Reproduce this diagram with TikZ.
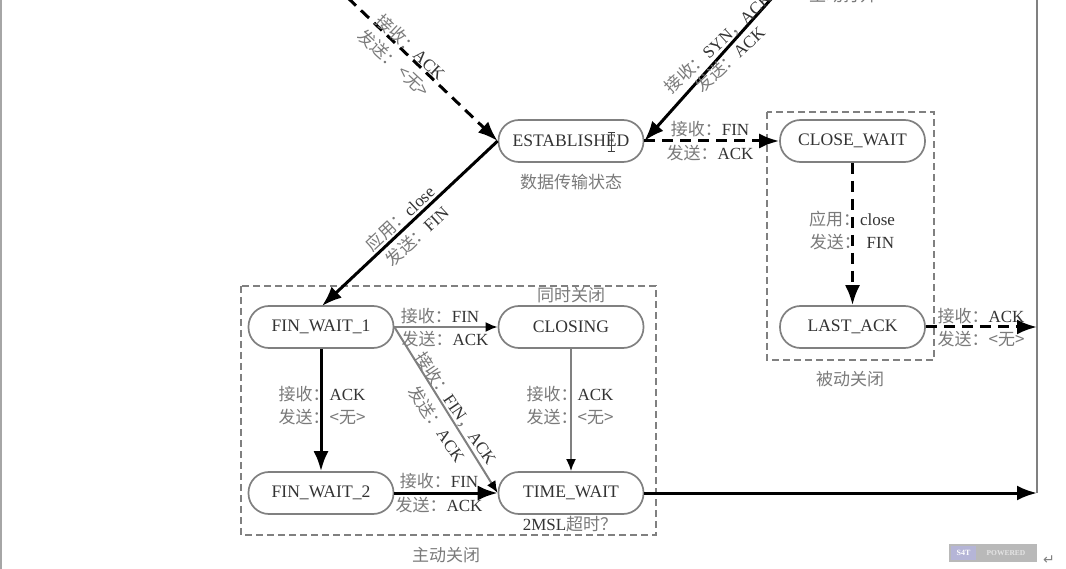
\documentclass[tikz,border=0pt]{standalone}
\usepackage{fontspec}
\setmainfont{Liberation Serif}
\newfontfamily\cjk{Noto Sans CJK SC}
\usetikzlibrary{arrows.meta}
\newcommand{\zh}[1]{{\cjk\color{cjkgray}#1}}
\definecolor{cjkgray}{gray}{0.48}
\definecolor{txt}{gray}{0.2}
\definecolor{edgegray}{gray}{0.5}
\tikzset{
  statebox/.style={draw=edgegray,line width=1.7pt,fill=white,rounded corners=20.5pt,minimum width=145pt,minimum height=42pt,inner sep=0pt,text=txt,font=\fontsize{17.6}{19}\selectfont},
  lab/.style={inner sep=0pt,text=txt,font=\fontsize{17}{19}\selectfont},
  group/.style={draw=edgegray,line width=1.3pt,dash pattern=on 7pt off 4pt},
  flow/.style={black,line width=3pt,-{Latex[length=20pt,width=15pt]}},
  dflow/.style={flow,dash pattern=on 11pt off 7pt},
  thin flow/.style={edgegray,line width=2pt,-{Latex[length=12pt,width=10pt,black]}}
}
\begin{document}
\begin{tikzpicture}[x=1pt,y=-1pt]
\useasboundingbox (0,0) rectangle (1066,569);
\clip (0,0) rectangle (1066,569);
\fill[white] (0,0) rectangle (1066,569);
\draw[gray!70,line width=2pt] (1,0) -- (1,569);
% groups
\draw[group] (241,286) rectangle (656,535);
\draw[group] (767,112) rectangle (934,360);
% states
\node[statebox] (est) at (571,141) {ESTABLISHED};
\node[statebox] (cw) at (852.5,141) {CLOSE\_WAIT};
\node[statebox] (fw1) at (321,327) {FIN\_WAIT\_1};
\node[statebox] (cl) at (571,327) {CLOSING};
\node[statebox] (fw2) at (321,493) {FIN\_WAIT\_2};
\node[statebox] (tw) at (571,493) {TIME\_WAIT};
\node[statebox] (la) at (852.5,327) {LAST\_ACK};
% free ends
\coordinate (topl) at (348,-2);
\coordinate (topr) at (772,-2);
\coordinate (railt) at (1037,-2);
\coordinate (rail1) at (1037,327);
\coordinate (rail2) at (1037,493);
\coordinate (fw1top) at (322,306);
% connectors
\draw[edgegray,line width=2.2pt] (railt) -- (rail2);
\draw[dflow] (topl) -- (est.west);
\draw[flow] (topr) -- (est.east);
\draw[dflow] (est.east) -- (cw.west);
\draw[flow] (est.west) -- (fw1top);
\draw[dflow] (cw.south) -- (la.north);
\draw[dflow] (la.east) -- (rail1);
\draw[flow] (fw1.south) -- (fw2.north);
\draw[thin flow] (fw1.east) -- (cl.west);
\draw[thin flow] (fw1.east) -- (tw.west);
\draw[thin flow] (cl.south) -- (tw.north);
\draw[flow] (fw2.east) -- (tw.west);
\draw[flow] (tw.east) -- (rail2);
% rotated labels
\node[lab,rotate=-43] (l1) at (411,47) {\zh{接收：}ACK};
\node[lab,rotate=-43] (l2) at (394,63) {\zh{发送：}\,\zh{<无>}};
\node[lab,rotate=43] (l3) at (718,43) {\zh{接收：}SYN\zh{，}ACK};
\node[lab,rotate=43] (l4) at (730,59) {\zh{发送：}ACK};
\node[lab,rotate=43] (l5) at (400,218) {\zh{应用：}close};
\node[lab,rotate=43] (l6) at (417,236) {\zh{发送：}FIN};
\node[lab,rotate=-56] (l7) at (456,408) {\zh{接收：}FIN\zh{，}ACK};
\node[lab,rotate=-56] (l8) at (437,424) {\zh{发送：}ACK};
% straight labels
\node[lab] (l9) at (710,129) {\zh{接收：}FIN};
\node[lab] (l10) at (710,153) {\zh{发送：}ACK};
\node[lab] (l11) at (852,219) {\zh{应用：}close};
\node[lab] (l12) at (852,242) {\zh{发送：}\,\,FIN};
\node[lab] (l13) at (981,316) {\zh{接收：}ACK};
\node[lab] (l14) at (981,339) {\zh{发送：}\zh{<无>}};
\node[lab] (l15) at (440,316) {\zh{接收：}FIN};
\node[lab] (l16) at (445,339) {\zh{发送：}ACK};
\node[lab] (l17) at (322,394) {\zh{接收：}ACK};
\node[lab] (l18) at (322,417) {\zh{发送：}\zh{<无>}};
\node[lab] (l19) at (570,394) {\zh{接收：}ACK};
\node[lab] (l20) at (570,417) {\zh{发送：}\zh{<无>}};
\node[lab] (l21) at (439,481) {\zh{接收：}FIN};
\node[lab] (l22) at (439,505) {\zh{发送：}ACK};
\node[lab] (l23) at (570,524) {2MSL\zh{超时？}};
% captions
\node[lab] (c1) at (571,182) {\zh{数据传输状态}};
\node[lab] (c2) at (571,295) {\zh{同时关闭}};
\node[lab] (c3) at (446,555) {\zh{主动关闭}};
\node[lab] (c4) at (850,379) {\zh{被动关闭}};
\node[lab] (c5) at (843,-5) {\zh{主动打开}};
% text cursor over ESTABLISHED
\draw[black!75,line width=.8pt] (611,132)--(611,151) (607.5,132)--(614.5,132) (607.5,151)--(614.5,151);
% watermark and return mark
\fill[gray!55] (949,544) rectangle (1037,562);
\fill[blue!30!gray!45] (951,546) rectangle (976,560);
\node[inner sep=0pt,text=white,font=\bfseries\fontsize{8}{9}\selectfont] (w1) at (963.5,553) {S4T};
\node[inner sep=0pt,text=gray!20,font=\bfseries\fontsize{7.5}{9}\selectfont] (w2) at (1006,553) {POWERED};
\node[inner sep=0pt,text=gray,font=\fontsize{14}{15}\selectfont] (ret) at (1049,560) {\fontspec{DejaVu Sans}↵};
\end{tikzpicture}
\end{document}
